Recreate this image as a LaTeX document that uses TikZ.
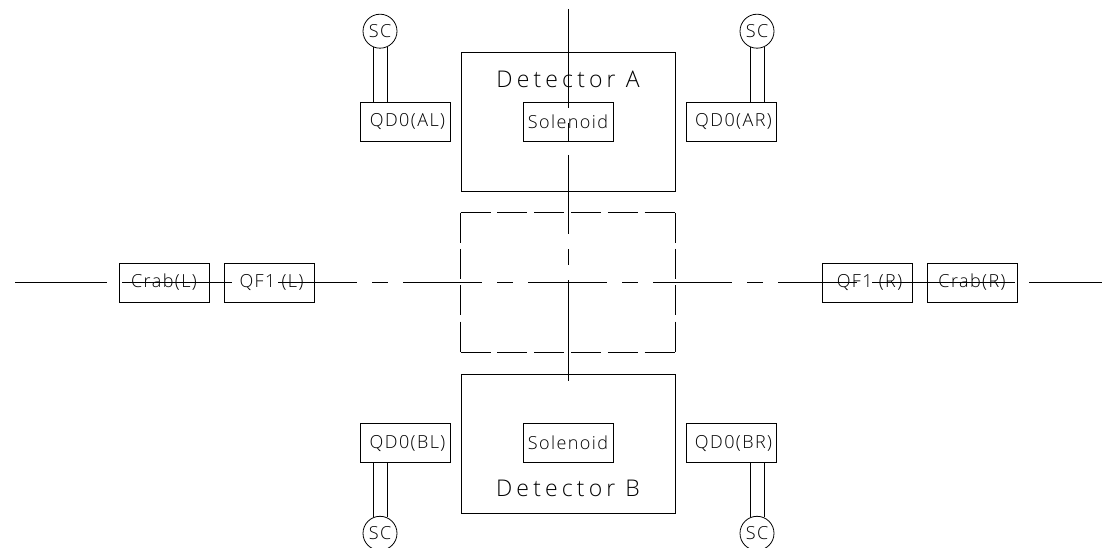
\documentclass[tikz,border=0pt]{standalone}
\usepackage{fontspec}
\usetikzlibrary{positioning}
\newfontfamily\cadfont[LetterSpace=8]{Open Sans Light}
\newfontfamily\cadtitle[LetterSpace=18]{Open Sans Light}
\begin{document}
\begin{tikzpicture}[x=1pt,y=-1pt,line width=.8pt,
                    every node/.style={font=\cadfont\fontsize{18}{18}\selectfont,inner sep=0pt},
                    box/.style={draw,minimum width=90pt,minimum height=39pt},
                    sc/.style={draw,circle,minimum size=34pt},
                    title/.style={font=\cadtitle\fontsize{23}{23}\selectfont},
                    frame/.style={minimum width=214pt,minimum height=139pt},
                    beam/.style={dash pattern=on 79pt off 15pt on 16pt off 15pt},
                    hdash/.style={dash pattern=on 30pt off 6.8pt},
                    vdash/.style={dash pattern=on 30pt off 6.33pt}]
\useasboundingbox (0,0) rectangle (1102,548);
% upper detector
\node[box,frame]              (DA)   at (568,121.5) {};
\node[title]                  (TA)   at (568,79)    {Detector A};
\node[box]                    (SA)   at (568,121.5) {Solenoid};
\node[box,left=72.2pt of SA]  (QAL)  {\hspace{5pt}QD0(AL)};
\node[box,right=72.2pt of SA] (QAR)  {\hspace{5pt}QD0(AR)};
\node[sc,above=53pt of QAL,xshift=-25pt] (SCAL) {SC};
\node[sc,above=53pt of QAR,xshift=26pt]  (SCAR) {SC};
% lower detector
\node[box,frame]              (DB)   at (568,443.5) {};
\node[title]                  (TB)   at (568,488)   {Detector B};
\node[box]                    (SB)   at (568,443)   {Solenoid};
\node[box,left=72.2pt of SB]  (QBL)  {\hspace{5pt}QD0(BL)};
\node[box,right=72.2pt of SB] (QBR)  {\hspace{5pt}QD0(BR)};
\node[sc,below=53pt of QBL,xshift=-25pt] (SCBL) {SC};
\node[sc,below=53pt of QBR,xshift=26pt]  (SCBR) {SC};
% beam line elements
\node[box]                    (CL)   at (164,282.5) {Crab(L)};
\node[box,right=14.2pt of CL] (FL)   {\hspace{5pt}QF1 (L)};
\node[box]                    (CR)   at (972,282.5) {Crab(R)};
\node[box,left=14.2pt of CR]  (FR)   {\hspace{5pt}QF1 (R)};
\node[frame]                  (MID)  at (568,282.5) {};
% cooling lines
\foreach \q/\s in {QAL/SCAL,QAR/SCAR} {
  \draw (\s.246) -- (\s.246 |- \q.north);
  \draw (\s.294) -- (\s.294 |- \q.north);
}
\foreach \q/\s in {QBL/SCBL,QBR/SCBR} {
  \draw (\s.114) -- (\s.114 |- \q.south);
  \draw (\s.66) -- (\s.66 |- \q.south);
}
% middle frame
\draw[hdash] (MID.north west) -- (MID.north east);
\draw[hdash] (MID.south west) -- (MID.south east);
\draw[vdash] (MID.north west) -- (MID.south west);
\draw[vdash] (MID.north east) -- (MID.south east);
% horizontal axis
\coordinate (H0) at (15,282);    \coordinate (H1) at (107,282);
\coordinate (H2) at (122,282);   \coordinate (H3) at (232,282);
\coordinate (H4) at (278,282);   \coordinate (H5) at (873,282);
\coordinate (H6) at (1015,282);  \coordinate (H7) at (1029,282);
\coordinate (H8) at (1102,282);
\draw (H0) -- (H1);
\draw (H2) -- (H3);
\draw[beam] (H4) -- (H5);
\draw (H5) -- (H6);
\draw (H7) -- (H8);
% vertical axis
\coordinate (V0) at (568,9);     \coordinate (V1) at (568,108);
\coordinate (V2) at (568,123);   \coordinate (V3) at (568,141);
\coordinate (V4) at (568,155);   \coordinate (V5) at (568,280);
\coordinate (V6) at (568,381);
\draw (V0) -- (V1);
\draw (V2) -- (V3);
\draw[beam] (V4) -- (V5);
\draw (V5) -- (V6);
\end{tikzpicture}
\end{document}
